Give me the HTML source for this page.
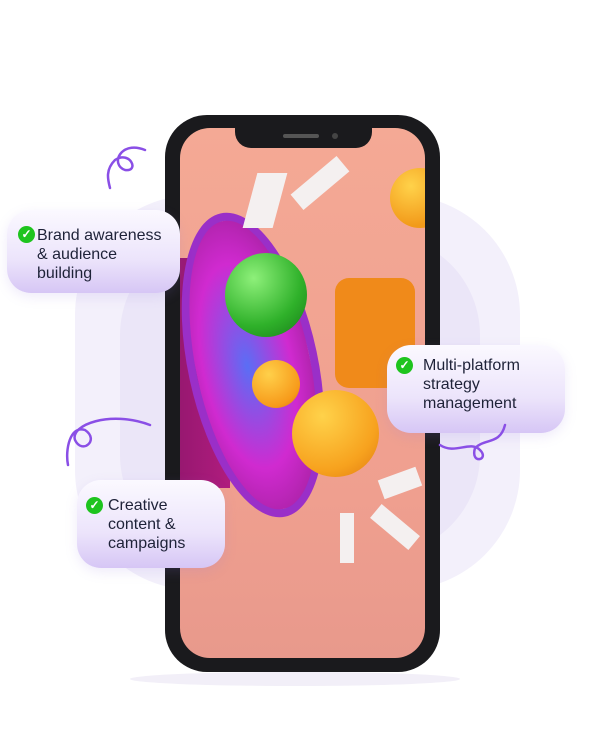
<!DOCTYPE html>
<html><head><style>
body{margin:0;width:600px;height:750px;background:#fff;position:relative;overflow:hidden;font-family:"Liberation Sans",sans-serif}
.a{position:absolute}
.card{position:absolute;border-radius:24px;background:linear-gradient(180deg,#fbf9ff 0%,#ece4fb 60%,#d6c6f5 100%);box-shadow:0 4px 12px rgba(150,120,220,.15);color:#1e2238;font-size:16px;line-height:19px}
.card .t{position:absolute}
.chk{position:absolute;width:17px;height:17px;border-radius:50%;background:#1ec41e;color:#fff;font-size:12px;line-height:17px;text-align:center;font-weight:bold}
</style></head><body>
<div class="a" style="left:75px;top:195px;width:445px;height:395px;border-radius:120px;background:#f3f0fb"></div>
<div class="a" style="left:120px;top:235px;width:360px;height:320px;border-radius:100px;background:#ebe6f8"></div>
<div class="a" style="left:130px;top:672px;width:330px;height:14px;border-radius:50%;background:#f2eff8"></div>
<div class="a" style="left:165px;top:115px;width:275px;height:557px;border-radius:42px;background:#1a1a1d"></div>
<div class="a" style="left:180px;top:128px;width:245px;height:530px;border-radius:30px;background:linear-gradient(180deg,#f4a995,#ef9f8f 70%,#e8998c);overflow:hidden">
 <div class="a" style="left:-60px;top:130px;width:110px;height:230px;background:linear-gradient(90deg,#7a1260,#b01c7e);"></div>
 <div class="a" style="left:8px;top:82px;width:130px;height:310px;border-radius:50%;box-sizing:border-box;border:8px solid #9a2fc8;background:radial-gradient(ellipse at 45% 50%,#5a6ef5 0%,#d02ad0 50%,#a0209a 85%);transform:rotate(-12deg)"></div>
 <div class="a" style="left:45px;top:125px;width:82px;height:84px;border-radius:50%;background:radial-gradient(circle at 35% 30%,#8ef07a,#2fb12a 60%,#177a18)"></div>
 <div class="a" style="left:72px;top:232px;width:48px;height:48px;border-radius:50%;background:radial-gradient(circle at 35% 30%,#ffd04a,#f79a1a 70%,#d9700e)"></div>
 <div class="a" style="left:112px;top:262px;width:87px;height:87px;border-radius:50%;background:radial-gradient(circle at 35% 30%,#ffd24a,#f7a21e 65%,#e07a10)"></div>
 <div class="a" style="left:210px;top:40px;width:60px;height:60px;border-radius:50%;background:radial-gradient(circle at 35% 30%,#ffd24a,#f29a1a 70%)"></div>
 <div class="a" style="left:155px;top:150px;width:80px;height:110px;border-radius:14px;background:#f08a1a"></div>
 <div class="a" style="left:70px;top:45px;width:30px;height:55px;background:#f4f0f0;transform:skewX(-15deg)"></div>
 <div class="a" style="left:110px;top:45px;width:60px;height:20px;background:#f4f0f0;transform:rotate(-40deg)"></div>
 <div class="a" style="left:200px;top:345px;width:40px;height:20px;background:#f4f0f0;transform:rotate(-20deg)"></div>
 <div class="a" style="left:190px;top:390px;width:50px;height:18px;background:#f4f0f0;transform:rotate(40deg)"></div>
 <div class="a" style="left:160px;top:385px;width:14px;height:50px;background:#f4f0f0"></div>
</div>
<div class="a" style="left:235px;top:128px;width:137px;height:20px;border-radius:0 0 16px 16px;background:#1a1a1d"></div>
<div class="a" style="left:283px;top:134px;width:36px;height:4px;border-radius:2px;background:#555"></div>
<div class="a" style="left:332px;top:133px;width:6px;height:6px;border-radius:50%;background:#444"></div>
<div class="card" style="left:7px;top:210px;width:173px;height:83px"><div class="chk" style="left:11px;top:16px">✓</div><div class="t" style="left:30px;top:16px">Brand awareness<br>&amp; audience<br>building</div></div>
<div class="card" style="left:387px;top:345px;width:178px;height:88px"><div class="chk" style="left:9px;top:12px">✓</div><div class="t" style="left:36px;top:11px">Multi-platform<br>strategy<br>management</div></div>
<div class="card" style="left:77px;top:480px;width:148px;height:88px"><div class="chk" style="left:9px;top:17px">✓</div><div class="t" style="left:31px;top:16px">Creative<br>content &amp;<br>campaigns</div></div>
<svg class="a" style="left:0;top:0" width="600" height="750" fill="none" stroke="#8a4fe6" stroke-width="2.5" stroke-linecap="round">
<path d="M145 150 C120 140 110 165 125 170 C140 172 130 150 115 160 C105 170 108 180 110 188"/>
<path d="M150 425 C110 410 70 425 75 440 C82 455 100 440 85 430 C70 425 65 450 68 465"/>
<path d="M440 445 C455 455 470 440 480 450 C490 460 470 465 475 448 C485 438 500 445 505 425"/>
</svg>
</body></html>
